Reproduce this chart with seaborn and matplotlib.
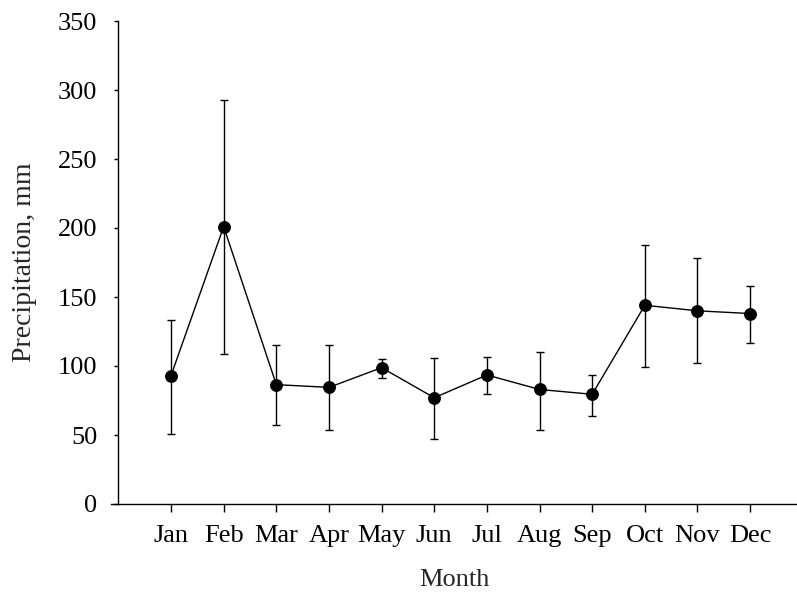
import numpy as np
import pandas as pd
import matplotlib
matplotlib.use('Agg')
import matplotlib.pyplot as plt
import seaborn as sns

months = ['Jan', 'Feb', 'Mar', 'Apr', 'May', 'Jun', 'Jul', 'Aug', 'Sep', 'Oct', 'Nov', 'Dec']
precip_mean = [93, 201, 86.5, 84.5, 98.8, 77, 93.5, 83, 79.5, 144, 140, 138]
precip_upper = [133, 293, 115.5, 115, 105, 106, 106.5, 110, 93.7, 188, 178, 158]
precip_lower = [51, 109, 57, 53.8, 91.3, 47, 79.5, 53.6, 64, 99, 102, 117]

df = pd.DataFrame({'Month': months, 'Precip': precip_mean,
                   'upper': precip_upper, 'lower': precip_lower})

sns.set_style('ticks')
plt.rcParams['font.family'] = ['Liberation Serif', 'DejaVu Serif']

fig = plt.figure(figsize=(7.97, 5.97), dpi=100)
ax = fig.add_axes([111 / 797, 93 / 597, 686 / 797, 483 / 597])

# error bars first, then the line with markers on top
pos = np.arange(len(months))
ax.errorbar(pos, df['Precip'],
            yerr=[df['Precip'] - df['lower'], df['upper'] - df['Precip']],
            fmt='none', ecolor='black', elinewidth=1, capsize=3, capthick=1, zorder=2)
sns.lineplot(data=df, x='Month', y='Precip', ax=ax, color='black', lw=1,
             marker='o', markersize=8.5, markeredgecolor='black', sort=False, zorder=3)

ax.set_xlim(-1.14, 11.89)
ax.set_ylim(0, 350)
ax.set_yticks(range(0, 351, 50))
ax.spines['left'].set_position(('data', -1))
ax.spines['top'].set_visible(False)
ax.spines['right'].set_visible(False)
for s in ['left', 'bottom']:
    ax.spines[s].set_linewidth(1)
    ax.spines[s].set_color('black')

ax.tick_params(axis='y', direction='out', length=3, width=1, pad=12, labelsize=19, colors='black')
ax.tick_params(axis='x', direction='out', length=6, width=1, pad=9, labelsize=19, colors='black')

ax.set_xlabel('Month', fontsize=19, labelpad=16)
ax.set_ylabel('Precipitation, mm', fontsize=20, labelpad=15)

fig.savefig('out.png', dpi=100)
